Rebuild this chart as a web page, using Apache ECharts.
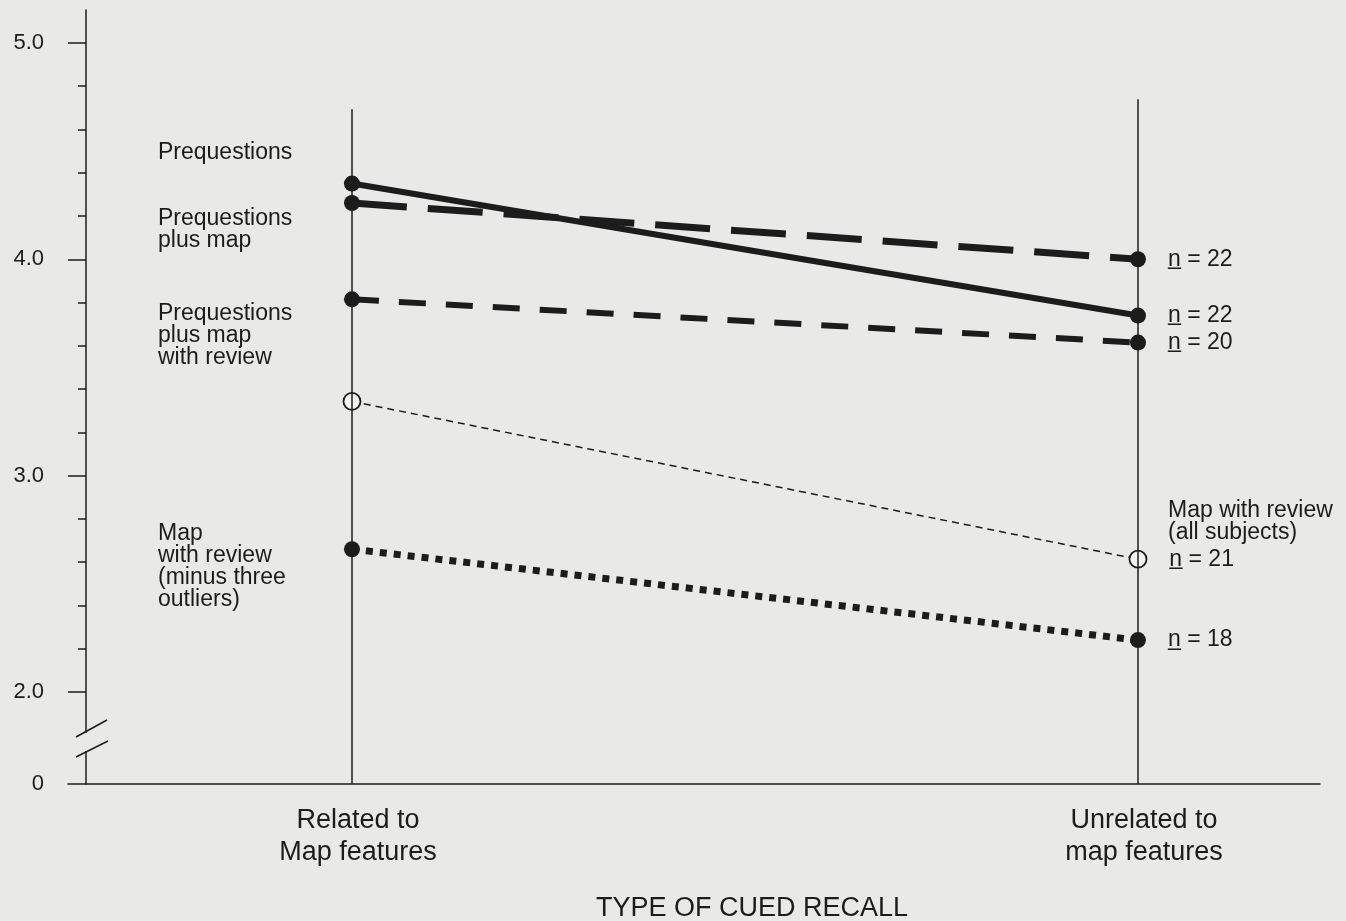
<!DOCTYPE html>
<html>
<head>
<meta charset="utf-8">
<script src="https://cdn.jsdelivr.net/npm/echarts@6/dist/echarts.min.js"></script>
<style>
  html, body { margin: 0; padding: 0; background: #e9e9e7; }
  #chart { width: 1346px; height: 921px; }
</style>
</head>
<body>
<div id="chart"></div>
<script>
// categories on the x axis and where they sit on the value scale
const categories = ['Related to\nMap features', 'Unrelated to\nmap features'];
const catX = [1, 2];

// mean cued recall scores
const prequestions = [4.35, 3.74];
const prequestionsMap = [4.26, 4.0];
const prequestionsMapReview = [3.815, 3.615];
const mapReviewAll = [3.343, 2.614];
const mapReviewMinus3 = [2.66, 2.24];
const nCounts = [22, 22, 20, 21, 18];

// y axis ticks (axis is broken between 0 and 2.0)
const yMin = 1.575;
const yMax = 5.152;
const yTicks = [2, 3, 4, 5];
const yTickLabels = ['2.0', '3.0', '4.0', '5.0'];
const yMinorTicks = [2.2, 2.4, 2.6, 2.8, 3.2, 3.4, 3.6, 3.8, 4.2, 4.4, 4.6, 4.8];

const ink = '#1c1c1c';
const bg = '#e9e9e7';
const font = '"Liberation Sans", Arial, sans-serif';
const noteFont = '23px ' + font;

let chartDom = document.getElementById('chart');
let myChart = echarts.init(chartDom);

function mkData(vals, idx) {
  return vals.map((v, i) => ({
    value: [catX[i], v],
    label: i === 1 ? {
      show: true,
      position: 'right',
      distance: 22,
      formatter: 'n\u0332 = ' + nCounts[idx],
      fontSize: 23,
      fontFamily: font,
      color: ink
    } : { show: false }
  }));
}

function mkSeries(name, vals, idx, lineStyle, hollow) {
  return {
    name: name,
    type: 'line',
    data: mkData(vals, idx),
    symbol: 'circle',
    symbolSize: hollow ? 17 : 16,
    itemStyle: hollow
      ? { color: '#f4f4f2', borderColor: ink, borderWidth: 1.8 }
      : { color: ink },
    lineStyle: Object.assign({ color: ink, cap: 'butt' }, lineStyle),
    z: 3,
    silent: true,
    animation: false
  };
}

let option = {
  backgroundColor: bg,
  animation: false,
  grid: { left: 68, right: 26, top: 10, bottom: 137 },
  xAxis: {
    type: 'value',
    min: 0.6387,
    max: 2.2316,
    axisLine: { lineStyle: { color: ink, width: 1.5 } },
    axisTick: { show: false },
    splitLine: { show: false },
    axisLabel: {
      customValues: catX,
      formatter: v => categories[catX.indexOf(v)] || '',
      fontSize: 27,
      lineHeight: 32,
      fontFamily: font,
      color: ink,
      margin: 21,
      padding: [0, 0, 0, 12]
    }
  },
  yAxis: [
    {
      type: 'value',
      min: yMin,
      max: yMax,
      offset: -18,
      axisLine: { show: true, lineStyle: { color: ink, width: 1.5 } },
      axisTick: { show: true, customValues: yTicks, length: 18, lineStyle: { color: ink, width: 1.5 } },
      splitLine: { show: false },
      axisLabel: {
        customValues: [yMin].concat(yTicks),
        formatter: v => v === yMin ? '0' : yTickLabels[yTicks.indexOf(v)],
        fontSize: 22,
        fontFamily: font,
        color: ink,
        margin: 42
      }
    },
    {
      type: 'value',
      min: yMin,
      max: yMax,
      offset: -18,
      position: 'left',
      axisLine: { show: false },
      axisTick: { show: true, customValues: yMinorTicks, length: 8, lineStyle: { color: ink, width: 1.5 } },
      splitLine: { show: false },
      axisLabel: { show: false }
    }
  ],
  series: [
    {
      // the two vertical category lines
      type: 'line',
      data: [],
      silent: true,
      z: 1,
      markLine: {
        silent: true,
        symbol: 'none',
        label: { show: false },
        lineStyle: { color: ink, width: 1.5, type: 'solid' },
        data: [
          [{ coord: [catX[0], yMin] }, { coord: [catX[0], 4.693] }],
          [{ coord: [catX[1], yMin] }, { coord: [catX[1], 4.739] }]
        ]
      }
    },
    mkSeries('Prequestions', prequestions, 1, { width: 6 }),
    mkSeries('Prequestions plus map', prequestionsMap, 0, { width: 7, type: [55, 21] }),
    mkSeries('Prequestions plus map with review', prequestionsMapReview, 2, { width: 6, type: [27, 20] }),
    mkSeries('Map with review (all subjects)', mapReviewAll, 3, { width: 1.5, type: [7, 5] }, true),
    mkSeries('Map with review (minus three outliers)', mapReviewMinus3, 4, { width: 7, type: [7, 7] })
  ],
  graphic: [
    // axis break marks
    { type: 'rect', shape: { x: 82, y: 733, width: 8, height: 18 }, style: { fill: bg }, z: 100 },
    { type: 'line', shape: { x1: 76, y1: 737, x2: 107, y2: 720 }, style: { stroke: ink, lineWidth: 1.5 }, z: 101 },
    { type: 'line', shape: { x1: 76, y1: 757, x2: 108, y2: 741 }, style: { stroke: ink, lineWidth: 1.5 }, z: 101 },
    // series annotations
    { type: 'text', x: 158, y: 142, z: 50, style: { text: 'Prequestions', font: noteFont, lineHeight: 22, fill: ink, verticalAlign: 'top' } },
    { type: 'text', x: 158, y: 208, z: 50, style: { text: 'Prequestions\nplus map', font: noteFont, lineHeight: 22, fill: ink, verticalAlign: 'top' } },
    { type: 'text', x: 158, y: 303, z: 50, style: { text: 'Prequestions\nplus map\nwith review', font: noteFont, lineHeight: 22, fill: ink, verticalAlign: 'top' } },
    { type: 'text', x: 158, y: 523, z: 50, style: { text: 'Map\nwith review\n(minus three\noutliers)', font: noteFont, lineHeight: 22, fill: ink, verticalAlign: 'top' } },
    { type: 'text', x: 1168, y: 500, z: 50, style: { text: 'Map with review\n(all subjects)', font: noteFont, lineHeight: 22, fill: ink, verticalAlign: 'top' } },
    { type: 'text', x: 752, y: 909, z: 50, style: { text: 'TYPE OF CUED RECALL', font: '27px ' + font, fill: ink, align: 'center', verticalAlign: 'middle' } }
  ]
};

option && myChart.setOption(option);
</script>
</body>
</html>
